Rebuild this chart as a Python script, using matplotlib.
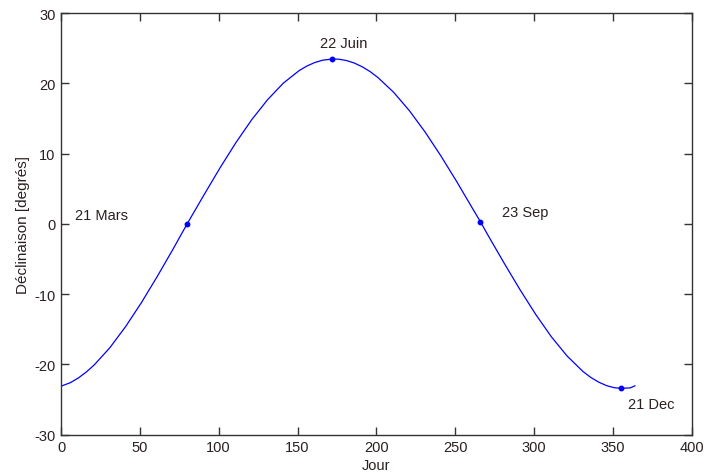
import matplotlib
matplotlib.use("Agg")
import matplotlib.pyplot as plt

# Curve (day of year, declination in degrees)
days = [0, 6, 11, 16, 21, 31, 41, 51, 61, 71, 80, 91, 101, 111, 121, 131, 141,
        151, 156, 161, 166, 172, 176, 181, 186, 191, 196, 201, 211, 221, 231,
        241, 251, 261, 266, 271, 281, 291, 301, 311, 321, 331, 336, 341, 346,
        351, 355, 361, 364]
decl = [-23.1, -22.59, -21.93, -21.09, -20.09, -17.62, -14.61, -11.21, -7.50,
        -3.62, 0.0, 4.24, 8.02, 11.58, 14.83, 17.66, 20.02, 21.80, 22.46,
        22.96, 23.29, 23.45, 23.43, 23.24, 22.88, 22.35, 21.67, 20.82, 18.71,
        16.09, 13.04, 9.64, 6.00, 2.19, 0.3, -1.70, -5.57, -9.33, -12.86,
        -16.07, -18.81, -21.00, -21.85, -22.52, -23.02, -23.32, -23.4, -23.34,
        -23.05]

# Marked dates
mark_days = [80, 172, 266, 355]
mark_decl = [0.0, 23.45, 0.3, -23.4]
mark_labels = ["21 Mars", "22 Juin", "23 Sep", "21 Dec"]
label_x = [9, 164.5, 280, 359.5]
label_y = [1.3, 25.7, 1.7, -25.6]

xticks = [0, 50, 100, 150, 200, 250, 300, 350, 400]
yticks = [-30, -20, -10, 0, 10, 20, 30]

plt.rcParams['font.family'] = ['Liberation Sans', 'DejaVu Sans']
plt.rcParams['axes.unicode_minus'] = False
txt = '#2a2020'

fig = plt.figure(figsize=(7.04, 4.77), dpi=100)
ax = fig.add_axes([61 / 704, 1 - 435.7 / 477, 630.7 / 704, 421.7 / 477])

ax.plot(days, decl, color='#0000ff', lw=0.9)
ax.plot(mark_days, mark_decl, linestyle='none', marker='o', ms=3.2,
        color='#0000ff')
for lx, ly, lab in zip(label_x, label_y, mark_labels):
    ax.text(lx, ly, lab, ha='left', va='center', fontsize=10.5, color=txt)

ax.set_xlim(0, 400)
ax.set_ylim(-30, 30)
ax.set_xticks(xticks)
ax.set_yticks(yticks)
ax.tick_params(direction='in', length=6, width=1, top=True, right=True,
               labelsize=10.5, labelcolor=txt, color='#333333', pad=4)
for s in ax.spines.values():
    s.set_color('#333333')
    s.set_linewidth(1.0)

ax.set_xlabel('Jour', fontsize=10.5, color=txt, labelpad=3)
ax.set_ylabel('Déclinaison [degrés]', fontsize=11, color=txt, labelpad=3)

fig.savefig('out.png', dpi=100, facecolor='white')
